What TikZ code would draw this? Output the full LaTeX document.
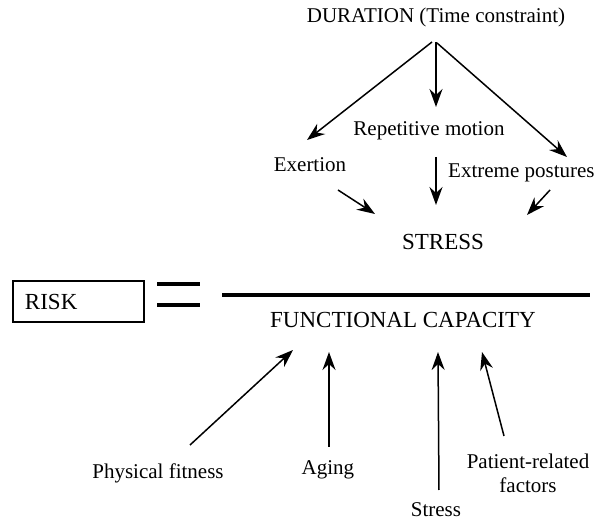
\documentclass[tikz,border=0pt]{standalone}
\usepackage{fontspec}
\setmainfont{Liberation Serif}
\usetikzlibrary{arrows.meta,positioning}

\begin{document}
\begin{tikzpicture}[
  x=0.5pt, y=-0.5pt,
  txt/.style={align=center, inner sep=0pt, font=\fontsize{10.5}{12}\selectfont},
  caps/.style={txt, font=\fontsize{11.5}{13}\selectfont},
  riskbox/.style={draw, line width=1pt, minimum height=20.5pt, text width=53.5pt, inner xsep=6pt, align=left, font=\fontsize{11.5}{13}\selectfont},
  arrow/.style={-{Stealth[length=9pt, width=6.5pt, inset=3pt]}, line width=0.75pt},
  bar/.style={line width=2pt}
]
\useasboundingbox (0,0) rectangle (596,519);

% Stress side
\node[txt] (duration) at (436,17) {DURATION (Time constraint)};
\node[txt] (repetitive) at (429,131) {Repetitive motion};
\node[txt] (exertion) at (310,165) {Exertion};
\node[txt, anchor=east] (postures) at (595,173) {Extreme postures};
\node[caps] (stress) at (443,242) {STRESS};

% Ratio
\node[riskbox] (risk) at (78.5,301.5) {RISK};
\draw[bar] (157,284) -- (200,284);
\draw[bar] (157,305) -- (200,305);
\draw[bar] (222,295) -- (590,295);
\node[caps] (capacity) at (403,320) {FUNCTIONAL CAPACITY};

% Capacity side
\node[txt] (fitness) at (158,473) {Physical fitness};
\node[txt] (aging) at (328,470) {Aging};
\node[txt] (stresslow) at (436,510) {Stress};
\node[txt] (patient) at (528,473) {Patient-related\\factors};

% Arrow ends
\coordinate (dur-l) at (432,42);
\coordinate (dur-m) at (436,42);
\coordinate (dur-r) at (437,43);
\coordinate (exertion-in) at (307,140);
\coordinate (repetitive-in) at (436,107);
\coordinate (postures-in) at (567,157);
\coordinate (exertion-out) at (338,190);
\coordinate (repetitive-out) at (436,157);
\coordinate (postures-out) at (550,190);
\coordinate (stress-l) at (375,214);
\coordinate (stress-m) at (436,205);
\coordinate (stress-r) at (527,215);
\coordinate (fitness-out) at (190,445);
\coordinate (aging-out) at (329,447);
\coordinate (stresslow-out) at (439,490);
\coordinate (patient-out) at (504,436);
\coordinate (capacity-a) at (293,350);
\coordinate (capacity-b) at (329,352);
\coordinate (capacity-c) at (438,352);
\coordinate (capacity-d) at (482,352);

% Arrows
\draw[arrow] (dur-l) -- (exertion-in);
\draw[arrow] (dur-m) -- (repetitive-in);
\draw[arrow] (dur-r) -- (postures-in);
\draw[arrow] (exertion-out) -- (stress-l);
\draw[arrow] (repetitive-out) -- (stress-m);
\draw[arrow] (postures-out) -- (stress-r);
\draw[arrow] (fitness-out) -- (capacity-a);
\draw[arrow] (aging-out) -- (capacity-b);
\draw[arrow] (stresslow-out) -- (capacity-c);
\draw[arrow] (patient-out) -- (capacity-d);

\end{tikzpicture}
\end{document}
